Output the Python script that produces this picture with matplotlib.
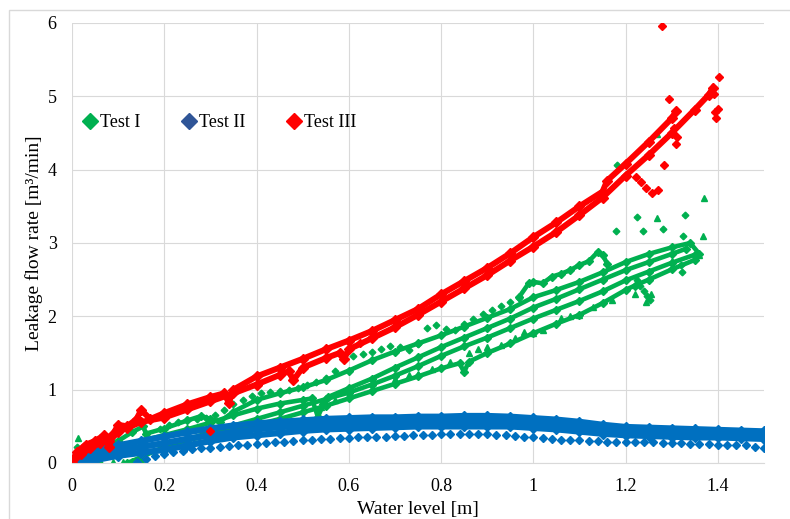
import matplotlib
matplotlib.use('Agg')
import matplotlib.pyplot as plt
from matplotlib.lines import Line2D
from matplotlib.patches import Rectangle

plt.rcParams['font.family'] = ['Liberation Serif', 'DejaVu Serif']

verde = '#00B050'
azul = '#0070C0'
azul_leg = '#2F5597'
vermelho = '#FF0000'

# Test I - main runs (dense points)
ga_x = [0.0, 0.02, 0.05, 0.1, 0.13, 0.155, 0.16, 0.2, 0.25, 0.28, 0.3, 0.32, 0.35, 0.4, 0.45, 0.5, 0.55, 0.6, 0.65, 0.7, 0.75, 0.8, 0.85, 0.9, 0.95, 1.0, 1.05, 1.1, 1.15, 1.2, 1.25, 1.3, 1.34, 1.36]
ga_y = [0.0, 0.12, 0.2, 0.3, 0.42, 0.5, 0.4, 0.47, 0.58, 0.64, 0.6, 0.56, 0.7, 0.86, 0.95, 1.03, 1.13, 1.26, 1.4, 1.52, 1.63, 1.74, 1.86, 1.98, 2.1, 2.26, 2.36, 2.47, 2.6, 2.74, 2.85, 2.94, 3.0, 2.85]
gb_x = [0.0, 0.03, 0.06, 0.1, 0.15, 0.2, 0.25, 0.3, 0.35, 0.4, 0.45, 0.5, 0.52, 0.533, 0.545, 0.555, 0.6, 0.65, 0.7, 0.75, 0.8, 0.85, 0.9, 0.95, 1.0, 1.05, 1.1, 1.15, 1.2, 1.25, 1.3, 1.33]
gb_y = [0.0, 0.1, 0.15, 0.22, 0.3, 0.38, 0.46, 0.55, 0.65, 0.74, 0.81, 0.86, 0.88, 0.63, 0.8, 0.9, 1.02, 1.15, 1.3, 1.44, 1.58, 1.71, 1.84, 1.97, 2.12, 2.24, 2.37, 2.5, 2.63, 2.74, 2.85, 2.92]
gc_x = [0.12, 0.15, 0.2, 0.25, 0.3, 0.35, 0.4, 0.45, 0.5, 0.55, 0.6, 0.65, 0.7, 0.75, 0.8, 0.85, 0.9, 0.95, 1.0, 1.05, 1.1, 1.15, 1.2, 1.25, 1.3, 1.35]
gc_y = [0.0, 0.08, 0.22, 0.32, 0.42, 0.51, 0.6, 0.69, 0.78, 0.87, 0.96, 1.07, 1.19, 1.32, 1.46, 1.59, 1.71, 1.84, 1.97, 2.09, 2.21, 2.34, 2.49, 2.61, 2.73, 2.84]
gd_x = [0.2, 0.25, 0.3, 0.35, 0.4, 0.45, 0.5, 0.55, 0.6, 0.65, 0.7, 0.75, 0.8, 0.84, 0.85, 0.86, 0.9, 0.95, 1.0, 1.05, 1.1, 1.15, 1.2, 1.22, 1.25, 1.3, 1.35]
gd_y = [0.24, 0.31, 0.38, 0.45, 0.52, 0.6, 0.69, 0.78, 0.88, 0.98, 1.08, 1.18, 1.29, 1.36, 1.24, 1.38, 1.5, 1.63, 1.77, 1.9, 2.02, 2.18, 2.36, 2.42, 2.5, 2.64, 2.77]
gtop_x = [0.97, 0.99, 1.0, 1.02, 1.04, 1.06, 1.08, 1.1, 1.12, 1.14, 1.15, 1.16]
gtop_y = [2.27, 2.45, 2.47, 2.45, 2.54, 2.58, 2.63, 2.7, 2.75, 2.88, 2.84, 2.72]

# Test I - sparse runs
gdot_x = [0.19, 0.21, 0.23, 0.25, 0.27, 0.29, 0.31, 0.33, 0.35, 0.37, 0.39, 0.41, 0.43, 0.45, 0.47, 0.49, 0.51, 0.53, 0.55, 0.57, 0.59, 0.61, 0.63, 0.65, 0.67, 0.69, 0.71, 0.73, 0.75, 0.77, 0.79, 0.81, 0.83, 0.85, 0.87, 0.89, 0.91, 0.93, 0.95, 0.97]
gdot_y = [0.47, 0.52, 0.56, 0.58, 0.6, 0.62, 0.66, 0.72, 0.8, 0.86, 0.92, 0.96, 0.97, 0.98, 1.0, 1.02, 1.06, 1.1, 1.16, 1.26, 1.4, 1.46, 1.48, 1.52, 1.56, 1.6, 1.58, 1.54, 1.62, 1.84, 1.88, 1.83, 1.82, 1.9, 1.96, 2.03, 2.09, 2.14, 2.2, 2.25]
gtri_x = [0.014, 0.06, 0.09, 0.11, 0.13, 0.15, 0.54, 0.57, 0.7, 0.73, 0.75, 0.78, 0.82, 0.86, 0.88, 0.9, 0.93, 0.96, 0.98, 1.0, 1.02, 1.06, 1.08, 1.1, 1.13, 1.17, 1.22, 1.245, 1.256, 1.268, 1.268, 1.3, 1.36, 1.367, 1.371]
gtri_y = [0.34, 0.03, 0.02, 0.02, 0.03, 0.05, 0.77, 0.86, 1.15, 1.2, 1.22, 1.28, 1.38, 1.5, 1.56, 1.58, 1.61, 1.7, 1.79, 1.77, 1.81, 1.98, 2.0, 2.02, 2.13, 2.22, 2.31, 2.2, 2.3, 3.34, 4.49, 2.75, 2.84, 3.09, 3.61]
gout_x = [0.01, 1.18, 1.181, 1.225, 1.238, 1.282, 1.328, 1.324, 1.224, 1.232, 1.24, 1.247, 1.253, 1.32, 1.322]
gout_y = [0.22, 3.17, 4.07, 3.35, 3.17, 3.19, 3.38, 3.1, 2.5, 2.42, 2.35, 2.28, 2.22, 2.7, 2.6]

# Test II
b_x = [0.02, 0.05, 0.1, 0.15, 0.2, 0.25, 0.3, 0.35, 0.4, 0.45, 0.5, 0.55, 0.6, 0.65, 0.7, 0.75, 0.8, 0.85, 0.9, 0.95, 1.0, 1.05, 1.1, 1.15, 1.2, 1.25, 1.3, 1.35, 1.4, 1.45, 1.5]
ba_y = [0.06, 0.17, 0.24, 0.3, 0.36, 0.42, 0.47, 0.51, 0.54, 0.56, 0.58, 0.6, 0.61, 0.62, 0.62, 0.63, 0.63, 0.64, 0.64, 0.63, 0.61, 0.59, 0.56, 0.52, 0.49, 0.48, 0.47, 0.46, 0.45, 0.44, 0.43]
bb_y = [0.02, 0.1, 0.17, 0.22, 0.27, 0.33, 0.38, 0.42, 0.46, 0.49, 0.51, 0.53, 0.54, 0.55, 0.56, 0.57, 0.57, 0.57, 0.57, 0.56, 0.55, 0.52, 0.49, 0.46, 0.43, 0.42, 0.41, 0.4, 0.39, 0.39, 0.38]
bc_y = [0.0, 0.04, 0.1, 0.14, 0.18, 0.24, 0.3, 0.35, 0.38, 0.41, 0.44, 0.46, 0.47, 0.48, 0.49, 0.5, 0.5, 0.5, 0.5, 0.5, 0.48, 0.46, 0.43, 0.4, 0.38, 0.37, 0.36, 0.35, 0.35, 0.34, 0.33]
bdot_x = [0.14, 0.16, 0.18, 0.2, 0.22, 0.24, 0.26, 0.28, 0.3, 0.32, 0.34, 0.36, 0.38, 0.4, 0.42, 0.44, 0.46, 0.48, 0.5, 0.52, 0.54, 0.56, 0.58, 0.6, 0.62, 0.64, 0.66, 0.68, 0.7, 0.72, 0.74, 0.76, 0.78, 0.8, 0.82, 0.84, 0.86, 0.88, 0.9, 0.92, 0.94, 0.96, 0.98, 1.0, 1.02, 1.04, 1.06, 1.08, 1.1, 1.12, 1.14, 1.16, 1.18, 1.2, 1.22, 1.24, 1.26, 1.28, 1.3, 1.32, 1.34, 1.36, 1.38, 1.4, 1.42, 1.44, 1.46, 1.48, 1.5]
bdot_y = [0.02, 0.05, 0.09, 0.12, 0.15, 0.17, 0.19, 0.2, 0.21, 0.22, 0.23, 0.24, 0.25, 0.26, 0.27, 0.28, 0.29, 0.3, 0.31, 0.32, 0.33, 0.33, 0.34, 0.34, 0.35, 0.35, 0.36, 0.36, 0.37, 0.37, 0.38, 0.38, 0.38, 0.39, 0.39, 0.39, 0.39, 0.39, 0.39, 0.38, 0.38, 0.37, 0.36, 0.35, 0.34, 0.33, 0.32, 0.31, 0.31, 0.3, 0.3, 0.29, 0.29, 0.29, 0.28, 0.28, 0.28, 0.27, 0.27, 0.27, 0.26, 0.26, 0.26, 0.25, 0.25, 0.24, 0.24, 0.22, 0.2]

# Test III
ra_x = [0.0, 0.01, 0.03, 0.05, 0.07, 0.08, 0.09, 0.1, 0.12, 0.14, 0.15, 0.17, 0.2, 0.25, 0.3, 0.33, 0.34, 0.35, 0.4, 0.45, 0.5, 0.55, 0.6, 0.65, 0.7, 0.75, 0.8, 0.85, 0.9, 0.95, 1.0, 1.05, 1.1, 1.15, 1.16, 1.2, 1.25, 1.3, 1.31]
ra_y = [0.0, 0.15, 0.25, 0.3, 0.38, 0.22, 0.4, 0.52, 0.5, 0.6, 0.72, 0.6, 0.68, 0.8, 0.9, 0.95, 0.82, 1.0, 1.18, 1.3, 1.42, 1.55, 1.67, 1.8, 1.95, 2.1, 2.3, 2.48, 2.66, 2.86, 3.08, 3.28, 3.5, 3.7, 3.85, 4.08, 4.38, 4.7, 4.8]
rb_x = [0.0, 0.02, 0.04, 0.06, 0.08, 0.1, 0.12, 0.15, 0.2, 0.25, 0.3, 0.35, 0.4, 0.45, 0.47, 0.48, 0.5, 0.55, 0.58, 0.59, 0.6, 0.65, 0.7, 0.75, 0.8, 0.85, 0.9, 0.95, 1.0, 1.05, 1.1, 1.15, 1.2, 1.25, 1.3, 1.35, 1.38, 1.39]
rb_y = [0.0, 0.12, 0.2, 0.27, 0.3, 0.42, 0.48, 0.56, 0.62, 0.73, 0.84, 0.95, 1.07, 1.2, 1.25, 1.13, 1.3, 1.43, 1.5, 1.42, 1.55, 1.7, 1.85, 2.02, 2.2, 2.38, 2.56, 2.76, 2.95, 3.15, 3.38, 3.62, 3.92, 4.2, 4.5, 4.82, 5.02, 5.12]
rout_x = [0.299, 0.624, 0.65, 1.222, 1.233, 1.245, 1.258, 1.271, 1.278, 1.283, 1.294, 1.305, 1.311, 1.309, 1.391, 1.394, 1.397, 1.401, 1.403]
rout_y = [0.44, 1.64, 1.72, 3.9, 3.83, 3.75, 3.68, 3.72, 5.96, 4.07, 4.97, 4.57, 4.44, 4.35, 5.03, 4.78, 4.71, 4.83, 5.26]

x_ticks = [0, 0.2, 0.4, 0.6, 0.8, 1.0, 1.2, 1.4]
x_labels = ['0', '0.2', '0.4', '0.6', '0.8', '1', '1.2', '1.4']
y_ticks = [0, 1, 2, 3, 4, 5, 6]
nomes = ['Test I', 'Test II', 'Test III']

fig = plt.figure(figsize=(7.9, 5.19), dpi=100)
ax = fig.add_axes([0.0911, 0.1079, 0.876, 0.8478])

# moldura cinza do grafico
fig.patches.append(Rectangle((0.0114, -0.05), 1.1, 1.0307, transform=fig.transFigure,
                             fill=False, edgecolor='#D9D9D9', lw=1.0))


def linha(x, y, cor, lw, ms):
    ax.plot(x, y, color=cor, lw=lw, marker='D', ms=ms, solid_joinstyle='round')


def pontos(x, y, cor, marker='D', ms=3.4):
    ax.plot(x, y, ls='', color=cor, marker=marker, ms=ms)


# Test I
for xs, ys in [(ga_x, ga_y), (gb_x, gb_y), (gc_x, gc_y), (gd_x, gd_y), (gtop_x, gtop_y)]:
    linha(xs, ys, verde, 3.3, 4.2)
pontos(gdot_x, gdot_y, verde)
pontos(gtri_x, gtri_y, verde, marker='^', ms=4.2)
pontos(gout_x, gout_y, verde)

# Test II
for ys in [ba_y, bb_y, bc_y]:
    linha(b_x, ys, azul, 4.6, 5.0)
pontos(bdot_x, bdot_y, azul, ms=4.0)

# Test III
linha(ra_x, ra_y, vermelho, 4.3, 4.8)
linha(rb_x, rb_y, vermelho, 4.3, 4.8)
pontos(rout_x, rout_y, vermelho, ms=3.6)

ax.set_xlim(0, 1.5)
ax.set_ylim(0, 6)
ax.set_xticks(x_ticks)
ax.set_xticklabels(x_labels)
ax.set_yticks(y_ticks)
ax.grid(True, color='#D9D9D9', lw=0.8)
ax.set_axisbelow(True)
for lado in ['top', 'right', 'left']:
    ax.spines[lado].set_visible(False)
ax.spines['bottom'].set_color('#D9D9D9')
ax.tick_params(length=0, labelsize=13, pad=11)

ax.set_xlabel('Water level [m]', fontsize=14)
ax.set_ylabel('Leakage flow rate [m³/min]', fontsize=14)
ax.xaxis.set_label_coords(0.5, -0.086)
ax.yaxis.set_label_coords(-0.042, 0.5)

marcas = [Line2D([], [], ls='', marker='D', ms=8.5, color=c) for c in [verde, azul_leg, vermelho]]
ax.legend(marcas, nomes, loc='upper left', bbox_to_anchor=(0.016, 0.793), ncol=3,
          frameon=False, fontsize=13, handlelength=0.8, handletextpad=0.15,
          columnspacing=2.3, borderaxespad=0, borderpad=0)

fig.savefig('out.png', dpi=100)
